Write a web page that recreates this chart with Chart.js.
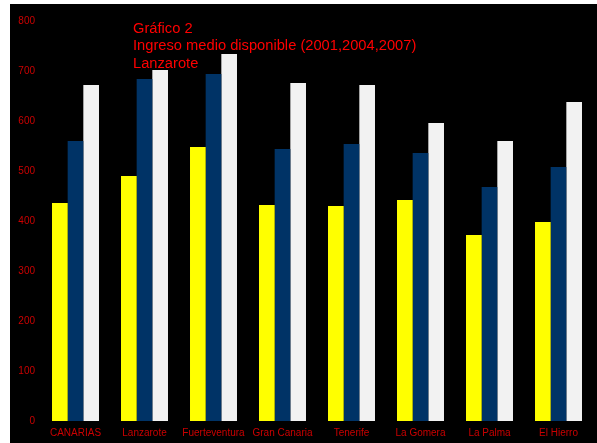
<!DOCTYPE html>
<html>
<head>
<meta charset="utf-8">
<script src="https://cdn.jsdelivr.net/npm/chart.js@4/dist/chart.umd.min.js"></script>
<style>
  body { margin: 0; background: #fff; }
  #wrap { position: absolute; left: 10px; top: 4px; }
  canvas { background: #000; display: block; }
</style>
</head>
<body>
<div id="wrap"><canvas id="chart" width="587" height="439"></canvas></div>
<script>
// islas
var categories = ['CANARIAS', 'Lanzarote', 'Fuerteventura', 'Gran Canaria', 'Tenerife', 'La Gomera', 'La Palma', 'El Hierro'];
// ingreso medio por año
var y2001 = [436, 490, 548, 432, 430, 442, 372, 398];
var y2004 = [560, 684, 694, 544, 554, 536, 468, 508];
var y2007 = [672, 702, 734, 676, 672, 596, 560, 638];
var yTicks = [0, 100, 200, 300, 400, 500, 600, 700, 800];
var titleLines = ['Gráfico 2', 'Ingreso medio disponible (2001,2004,2007)', 'Lanzarote'];

var font = 'Liberation Sans, Arial, sans-serif';

// titulo dentro del area del grafico
var titlePlugin = {
    id: 'insideTitle',
    afterDraw: function (chart) {
        var ctx = chart.ctx;
        ctx.save();
        ctx.fillStyle = '#ff0000';
        ctx.font = '14.7px ' + font;
        ctx.textBaseline = 'middle';
        for (var i = 0; i < titleLines.length; i++) {
            ctx.fillText(titleLines[i], 123, 24.5 + i * 17.5);
        }
        ctx.restore();
    }
};

new Chart(document.getElementById('chart'), {
    type: 'bar',
    data: {
        labels: categories,
        datasets: [
            { label: '2001', data: y2001, backgroundColor: '#ffff00' },
            { label: '2004', data: y2004, backgroundColor: '#003366' },
            { label: '2007', data: y2007, backgroundColor: '#f2f2f2' }
        ]
    },
    options: {
        responsive: false,
        animation: false,
        layout: { padding: { left: 0, right: 4, top: 17, bottom: 0 } },
        datasets: { bar: { categoryPercentage: 0.681, barPercentage: 1.0 } },
        plugins: { legend: { display: false }, tooltip: { enabled: false } },
        scales: {
            x: {
                grid: { display: false, drawTicks: false },
                border: { display: false },
                ticks: { color: '#cc0000', font: { family: font, size: 10 }, padding: 6, maxRotation: 0, autoSkip: false },
                afterFit: function (axis) { axis.height = 22; }
            },
            y: {
                min: 0, max: 800,
                grid: { display: false, drawTicks: false },
                border: { display: false },
                afterBuildTicks: function (axis) { axis.ticks = yTicks.map(function (v) { return { value: v }; }); },
                ticks: { color: '#cc0000', font: { family: font, size: 10 }, padding: 6 },
                afterFit: function (axis) { axis.width = 31; }
            }
        }
    },
    plugins: [titlePlugin]
});
</script>
</body>
</html>
